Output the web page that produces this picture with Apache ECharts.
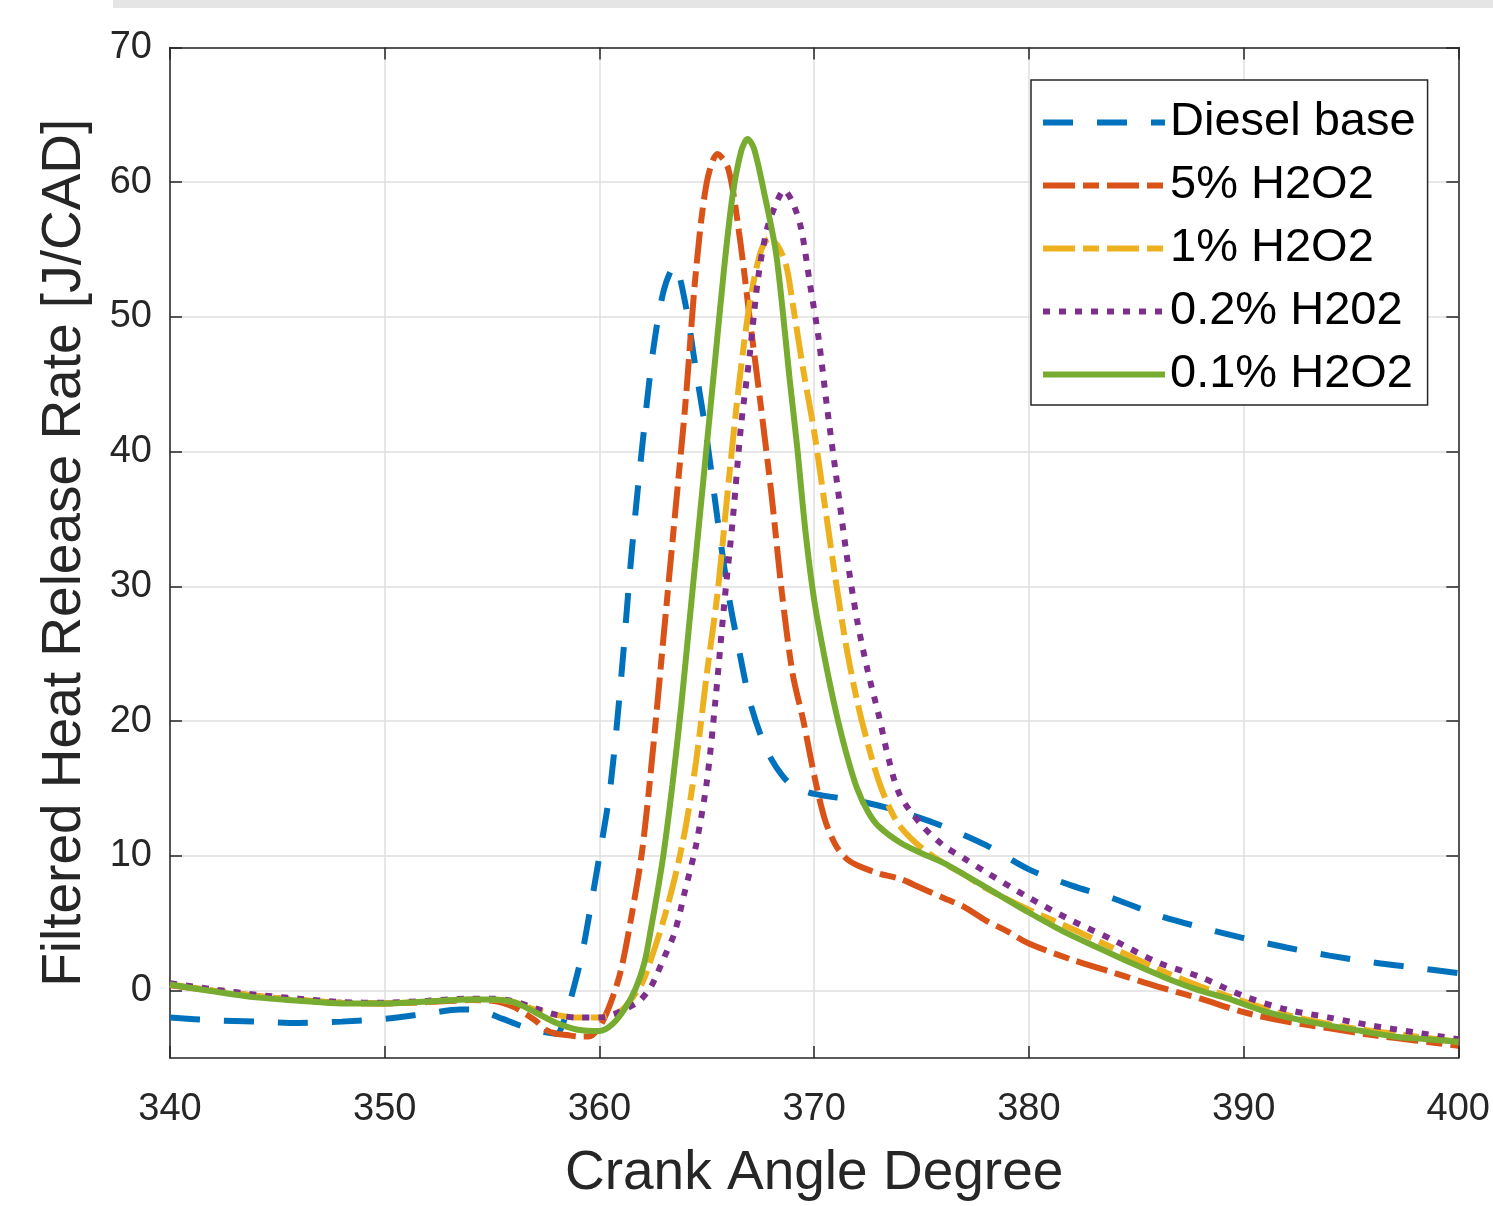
<!DOCTYPE html>
<html><head><meta charset="utf-8">
<script src="https://cdn.jsdelivr.net/npm/echarts@6/dist/echarts.min.js"></script>
<style>html,body{margin:0;padding:0;background:#fff;overflow:hidden}#c{width:1493px;height:1206px}</style>
</head><body><div id="c"></div>
<script>
// ---- data ----
const xTicks = [340, 350, 360, 370, 380, 390, 400];
const yTicks = [0, 10, 20, 30, 40, 50, 60, 70];
const seriesNames = ['Diesel base', '5% H2O2', '1% H2O2', '0.2% H202', '0.1% H2O2'];

const blueX = [340,342,344,346,348,350,352,353.5,354.5,355.5,356.5,357.5,358,358.4,358.8,359.2,359.6,360,360.5,361,361.5,362,362.5,363,363.5,364,364.5,365,365.5,366,366.5,367,367.5,368,368.5,369,370,372,374,376,378,380,382,384,386,388,390,392,394,396,398,400];
const blueY = [-2.0,-2.2,-2.3,-2.4,-2.3,-2.1,-1.7,-1.4,-1.5,-2.1,-2.7,-3.1,-3.2,-2.0,0.2,2.8,6.3,10,15,23,32.5,40.5,47.5,52,53.8,51,46,41,35,29.5,25.3,21.5,19,17.2,16,15.2,14.6,14.1,13.3,12.2,10.8,9.0,7.8,6.8,5.6,4.7,3.9,3.2,2.6,2.1,1.7,1.3];

const orangeX = [340,342,344,346,348,350,352,354,355,356,357,357.5,358,358.5,359,359.5,360,360.5,361,361.5,362,362.5,363,363.5,364,364.5,365,365.5,366,366.5,367,367.5,368,368.5,369,369.5,370,370.5,371,371.5,372,373,374,375,376,377,378,379,380,382,384,386,388,390,392,394,396,398,400];
const orangeY = [0.4,0,-0.4,-0.7,-0.9,-0.95,-0.85,-0.7,-0.75,-1.2,-2.2,-2.9,-3.2,-3.3,-3.4,-3.4,-2.7,-1.0,1.5,5.6,10.5,18,26.5,35,43.5,53.5,60,62.1,61,56.3,49.9,43.6,37,29.5,23.5,20,16,12.7,10.8,9.8,9.3,8.7,8.3,7.6,6.9,6.2,5.2,4.4,3.5,2.3,1.3,0.3,-0.6,-1.6,-2.3,-2.8,-3.3,-3.7,-4.1];

const yellowX = [340,342,344,346,348,350,352,354,355,356,357,358,359,360,360.5,361,361.5,362,362.5,363,363.5,364,364.5,365,365.5,366,366.5,367,367.5,367.9,368.3,368.7,369,369.5,370,370.5,371,371.5,372,372.5,373,373.5,374,375,376,377,378,380,382,384,386,388,390,392,394,396,398,400];
const yellowY = [0.45,0,-0.4,-0.7,-0.9,-0.95,-0.8,-0.65,-0.65,-0.85,-1.4,-1.8,-2.0,-2.0,-1.8,-1.5,-0.6,0.6,2.8,5.3,8.3,12,17,23.5,29.5,37.5,45,51,54.8,55.8,55.3,53.8,51,46,41.5,36,30.5,25.5,21.5,18.3,15.6,13.6,12.2,10.6,9.5,8.6,7.6,6.0,4.6,3.1,1.6,0.3,-0.8,-1.8,-2.5,-3.0,-3.4,-3.8];

const purpleX = [340,342,344,346,348,350,352,354,355,356,357,358,359,360,360.6,361.3,361.9,362.4,362.7,363,363.5,364,364.5,365,365.4,365.8,366.2,366.6,367,367.4,367.8,368.2,368.6,369,369.4,369.8,370.2,370.6,371,371.5,372,372.5,373,373.5,374,375,376,377,378,380,382,384,386,388,390,392,394,396,398,400];
const purpleY = [0.55,0.1,-0.3,-0.6,-0.85,-0.9,-0.75,-0.6,-0.6,-0.8,-1.3,-1.8,-2.0,-2.0,-1.8,-1.3,-0.7,0.3,1.3,2.4,4.3,7.5,10.8,15.5,21.5,28.5,34.8,42,47.2,53,56.5,58.3,59.4,58.5,56.5,52.5,48.5,43.3,38.5,32.5,27.5,23.7,20.5,17,14.5,12.3,10.8,9.8,8.8,6.9,5.2,3.7,2.1,1.0,-0.4,-1.4,-2.0,-2.6,-3.1,-3.6];

const greenX = [340,342,344,346,348,350,352,354,355,356,357,358,359,360,360.6,361.2,361.7,362.1,362.4,362.7,363,363.4,363.8,364.2,364.6,365,365.4,365.8,366.2,366.6,366.9,367.2,367.7,368.2,368.5,368.85,369.2,369.6,370,370.5,371,371.5,372,372.5,373,374,375,376,377,378.5,380,381.6,383.2,384.7,386.3,387.8,389.3,390.9,392.4,394,395.5,397,398.5,400];
const greenY = [0.45,-0.05,-0.5,-0.75,-0.95,-0.95,-0.8,-0.65,-0.65,-0.85,-1.6,-2.4,-2.9,-3.0,-2.5,-1.3,0.2,2.1,4.6,7.3,10.3,15.3,21,27.5,34,40.5,47,53.5,59,62.3,63.2,62.5,59,55,51,45.5,40.5,34,29,24.6,20.8,17.6,15,13.3,12.2,11,10.2,9.5,8.6,7.2,5.8,4.4,3.2,2.1,1.0,0.1,-0.6,-1.5,-2.1,-2.6,-3.0,-3.4,-3.6,-3.8];

// ---- build ----
const zip = (xs, ys) => xs.map((x, i) => [x, ys[i]]);
const FONT = '"Liberation Sans", Arial, Helvetica, sans-serif';
const AX = '#262626';
const GRIDC = '#dfdfdf';
const colors = ['#0072BD', '#D95319', '#EDB120', '#7E2F8E', '#77AC30'];
const dashes = [[30, 24], [32, 8, 16, 8], [32, 8, 16, 8], [7, 9], 'solid'];
const datas = [zip(blueX, blueY), zip(orangeX, orangeY), zip(yellowX, yellowY), zip(purpleX, purpleY), zip(greenX, greenY)];

const chart = echarts.init(document.getElementById('c'), null, {renderer: 'canvas'});

const boxAxisX = (pos, main) => ({
  type: 'value', min: 340, max: 400, interval: 10, position: pos,
  axisLine: {show: true, onZero: false, lineStyle: {color: AX, width: 1.5}},
  axisTick: {show: true, inside: true, length: 12, lineStyle: {color: AX, width: 1.5}},
  axisLabel: {show: main, color: AX, fontSize: 38, fontFamily: FONT, margin: 33,
    customValues: xTicks},
  splitLine: {show: main, lineStyle: {color: GRIDC, width: 1.5}},
  name: main ? 'Crank Angle Degree' : '', nameLocation: 'middle', nameGap: 88,
  nameTextStyle: {color: AX, fontSize: 55, fontFamily: FONT}
});
const boxAxisY = (pos, main) => ({
  type: 'value', min: -5, max: 70, position: pos,
  axisLine: {show: true, onZero: false, lineStyle: {color: AX, width: 1.5}},
  axisTick: {show: true, inside: true, length: 12, lineStyle: {color: AX, width: 1.5}, customValues: yTicks},
  axisLabel: {show: main, color: AX, fontSize: 38, fontFamily: FONT, margin: 18, customValues: yTicks},
  splitLine: {show: main, lineStyle: {color: GRIDC, width: 1.5}},
  name: main ? 'Filtered Heat Release Rate [J/CAD]' : '', nameLocation: 'middle', nameGap: 78,
  nameTextStyle: {color: AX, fontSize: 55, fontFamily: FONT}
});

chart.setOption({
  animation: false,
  backgroundColor: '#ffffff',
  grid: {left: 170, right: 31, top: 47.5, bottom: 143, containLabel: false},
  xAxis: [boxAxisX('bottom', true), boxAxisX('top', false)],
  yAxis: [boxAxisY('left', true), boxAxisY('right', false)],
  legend: {
    orient: 'vertical', left: 1031, top: 80,
    itemWidth: 122, itemHeight: 20, itemGap: 16,
    padding: [19, 12, 7, 9],
    borderColor: AX, borderWidth: 1.5, backgroundColor: '#ffffff',
    textStyle: {fontSize: 47, color: '#000', fontFamily: FONT},
    lineStyle: {width: 6},
    itemStyle: {opacity: 0},
    data: seriesNames
  },
  graphic: [{type: 'rect', shape: {x: 113, y: 0, width: 1380, height: 8}, style: {fill: '#e5e5e5'}, silent: true}],
  series: seriesNames.map((n, i) => ({
    name: n, type: 'line', data: datas[i],
    symbol: 'none', showSymbol: false, smooth: 0.3,
    lineStyle: {color: colors[i], width: 6, type: dashes[i]},
    itemStyle: {color: colors[i]},
    z: 2 + i
  }))
});
</script>
</body></html>
